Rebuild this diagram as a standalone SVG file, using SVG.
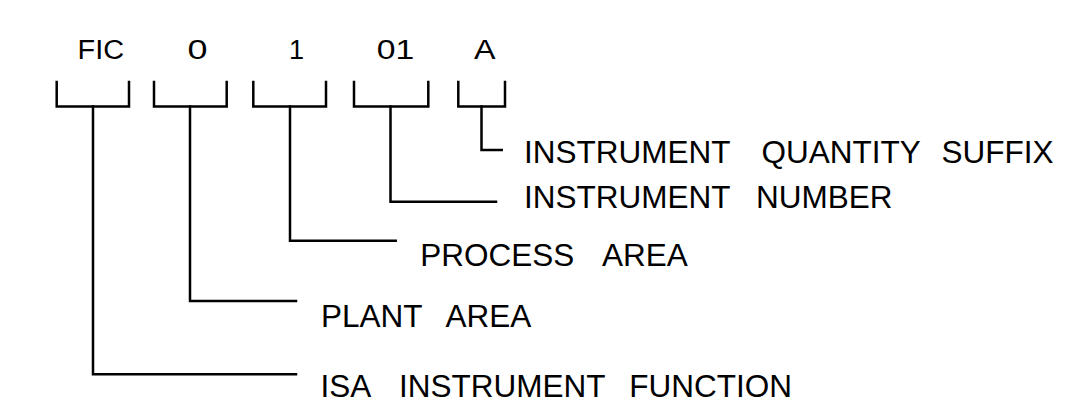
<svg xmlns="http://www.w3.org/2000/svg" width="1072" height="405" viewBox="0 0 1072 405">
<style>
.ln{fill:none;stroke:#000;stroke-width:2.5;stroke-linecap:square;stroke-linejoin:miter}
.tag{font-family:"Liberation Sans",Arial,sans-serif;font-size:27px;fill:#000}
.lbl{font-family:"Liberation Sans",Arial,sans-serif;font-size:31.5px;fill:#000}
</style>
<rect width="1072" height="405" fill="#fff"/>
<g id="tag-fic"><text class="tag" x="77.5" y="59" textLength="46.5" lengthAdjust="spacingAndGlyphs">FIC</text><path class="ln" d="M56.7,82 V106.5 H129 V82"/></g>
<g id="tag-0"><text class="tag" x="187.5" y="59" textLength="20" lengthAdjust="spacingAndGlyphs">0</text><path class="ln" d="M154,82 V106.5 H226.7 V82"/></g>
<g id="tag-1"><text class="tag" x="289" y="59">1</text><path class="ln" d="M253.3,82 V106.5 H326 V82"/></g>
<g id="tag-01"><text class="tag" x="376.8" y="59" textLength="37.5" lengthAdjust="spacingAndGlyphs">01</text><path class="ln" d="M354,82 V106.5 H428.3 V82"/></g>
<g id="tag-a"><text class="tag" x="474" y="59" textLength="21.5" lengthAdjust="spacingAndGlyphs">A</text><path class="ln" d="M458.3,82 V106.5 H505 V82"/></g>
<g id="connectors">
<path class="ln" d="M481.5,106.5 V150 H501.7"/>
<path class="ln" d="M390.5,106.5 V201.7 H496"/>
<path class="ln" d="M290,106.5 V240.7 H395.7"/>
<path class="ln" d="M190,106.5 V301 H296"/>
<path class="ln" d="M93,106.5 V374.3 H296"/>
</g>
<g id="label-suffix">
<text class="lbl" x="524" y="163.3">INSTRUMENT</text>
<text class="lbl" x="761.5" y="163.3">QUANTITY</text>
<text class="lbl" x="941.5" y="163.3">SUFFIX</text>
</g>
<g id="label-number">
<text class="lbl" x="524" y="208.3">INSTRUMENT</text>
<text class="lbl" x="756" y="208.3">NUMBER</text>
</g>
<g id="label-process">
<text class="lbl" x="420.3" y="266">PROCESS</text>
<text class="lbl" x="602" y="266">AREA</text>
</g>
<g id="label-plant">
<text class="lbl" x="321" y="326.7">PLANT</text>
<text class="lbl" x="445.5" y="326.7">AREA</text>
</g>
<g id="label-function">
<text class="lbl" x="320.5" y="396.7">ISA</text>
<text class="lbl" x="399" y="396.7">INSTRUMENT</text>
<text class="lbl" x="629.3" y="396.7">FUNCTION</text>
</g>
</svg>
